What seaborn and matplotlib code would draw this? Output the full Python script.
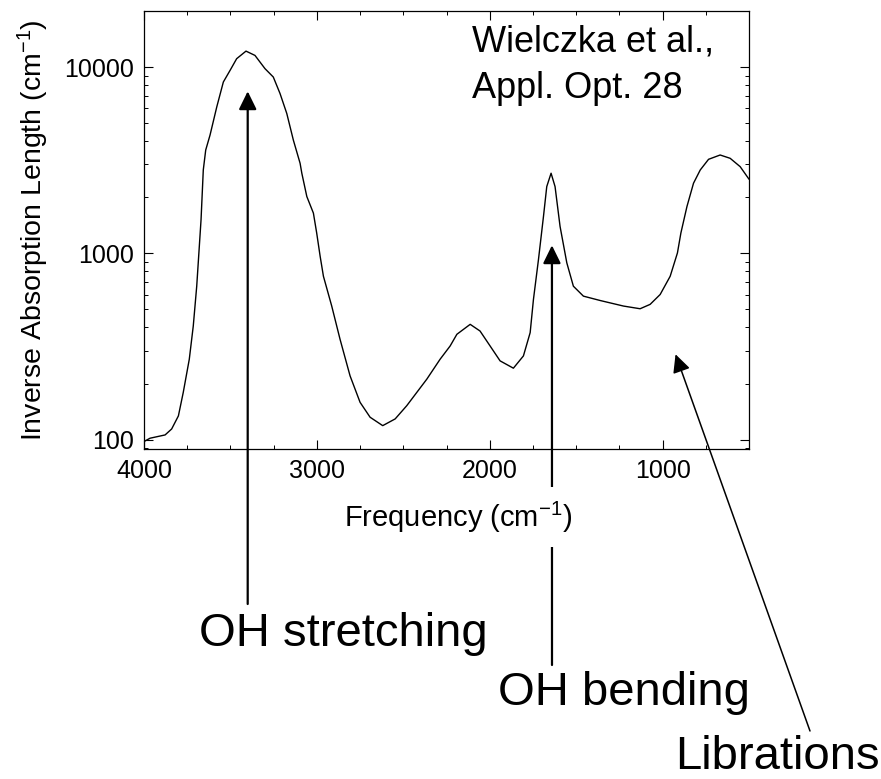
import matplotlib
matplotlib.use("Agg")
import matplotlib.pyplot as plt
import matplotlib.ticker as mticker
import numpy as np
import pandas as pd
import seaborn as sns

# absorption spectrum of water
freq = [4000, 3965, 3878, 3840, 3801, 3773, 3738, 3715, 3695, 3680, 3670, 3657, 3643, 3618,
        3579, 3541, 3502, 3464, 3410, 3358, 3300, 3252, 3213, 3174, 3136, 3097, 3087, 3058,
        3020, 3001, 2981, 2962, 2914, 2866, 2808, 2750, 2692, 2619, 2547, 2480, 2364, 2287,
        2229, 2190, 2113, 2056, 1998, 1940, 1863, 1805, 1766, 1747, 1718, 1689, 1670, 1645,
        1622, 1593, 1554, 1516, 1458, 1361, 1322, 1226, 1130, 1072, 1014, 956, 914, 894, 859,
        821, 782, 734, 667, 609, 551, 500]
inv_length = [97.6, 101.7, 105.9, 114, 134, 179, 270, 407, 666, 1090, 1514, 2803, 3585, 4313,
              6112, 8314, 9602, 11090, 12180, 11550, 9804, 8841, 7208, 5634, 4055, 3044, 2692, 2017,
              1644, 1286, 964, 753, 521, 346, 220, 158.5, 131.8, 118.8, 129.1, 152, 211, 270,
              318, 367.5, 415.6, 382.7, 318.3, 264.6, 241.7, 281.3, 375.2, 565.5, 925, 1577, 2282, 2692,
              2282, 1394, 889, 666, 589, 558, 547, 521, 504, 532, 601, 753, 1005, 1286, 1783,
              2379, 2803, 3197, 3372, 3237, 2919, 2500]

x_ticks = [4000, 3000, 2000, 1000]
y_ticks = [100, 1000, 10000]

# band labels: text, arrow tip (data), arrow tail (figure px), text anchor (figure px)
bands = ["OH stretching", "OH bending", "Librations"]
tips = [(3400, 7410), (1640, 1104), (925, 287)]
tails = [(247.7, 175), (552, 114), (810, 48)]
text_pos = [(199, 133), (498, 74), (675, 10)]
arrow_lw = [1.6, 1.6, 1.1]

sns.set_style("ticks")
plt.rcParams["font.family"] = ["Liberation Sans", "DejaVu Sans"]
plt.rcParams["mathtext.default"] = "regular"
for key in ["text.color", "axes.labelcolor", "xtick.color", "ytick.color", "axes.edgecolor"]:
    plt.rcParams[key] = "black"

W, H = 881, 779
fig = plt.figure(figsize=(W / 100, H / 100), dpi=100)
ax = fig.add_axes([144 / W, 1 - 449 / H, (749 - 144) / W, (449 - 11) / H])
ax.set_axisbelow(False)

df = pd.DataFrame({"freq": freq, "val": inv_length})
sns.lineplot(data=df, x="freq", y="val", color="black", linewidth=1.0, sort=False, ax=ax)

ax.set_yscale("log")
ax.set_xlim(4000, 500)
ax.set_ylim(89, 20000)

ax.xaxis.set_major_locator(mticker.FixedLocator(x_ticks))
ax.xaxis.set_minor_locator(mticker.MultipleLocator(250))
ax.yaxis.set_major_locator(mticker.FixedLocator(y_ticks))
ax.yaxis.set_major_formatter(mticker.FormatStrFormatter("%d"))
ax.yaxis.set_minor_locator(mticker.LogLocator(base=10, subs=np.arange(2, 10)))
ax.yaxis.set_minor_formatter(mticker.NullFormatter())

ax.tick_params(which="both", direction="in", top=True, right=True, color="black")
ax.tick_params(which="major", length=6.5, width=0.8, labelsize=18, pad=7)
ax.tick_params(which="minor", length=3.2, width=0.7)
for sp in ax.spines.values():
    sp.set_color("black")
    sp.set_linewidth(0.9)

ax.set_xlabel("Frequency (cm$^{-1}$)", fontsize=21, labelpad=12,
              bbox=dict(facecolor="white", edgecolor="none", pad=9))
ax.xaxis.label.set_x(0.519)
ax.set_ylabel("Inverse Absorption Length (cm$^{-1}$)", fontsize=20.5, labelpad=10)

fig.text(472 / W, 1 - 52 / H, "Wielczka et al.,", fontsize=26, ha="left", va="baseline")
fig.text(472 / W, 1 - 98 / H, "Appl. Opt. 28", fontsize=26, ha="left", va="baseline")

for name, tip, tail, pos, lw in zip(bands, tips, tails, text_pos, arrow_lw):
    ax.annotate("", xy=tip, xycoords="data", xytext=tail, textcoords="figure pixels",
                arrowprops=dict(arrowstyle="-|>,head_length=0.55,head_width=0.27",
                                mutation_scale=20, color="black", lw=lw,
                                shrinkA=0, shrinkB=0),
                annotation_clip=False, zorder=1)
    fig.text(pos[0] / W, pos[1] / H, name, fontsize=34, ha="left", va="baseline")

fig.savefig("out.png", dpi=100)
